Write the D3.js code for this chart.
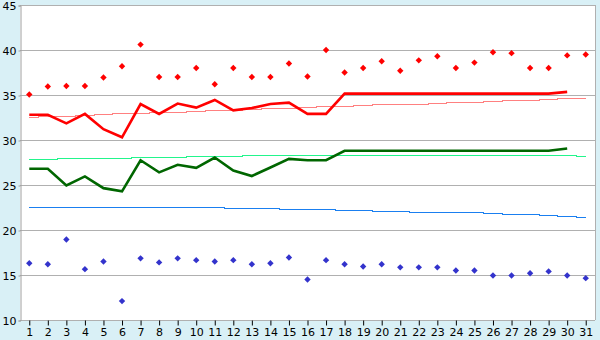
<!DOCTYPE html>
<html>
<head>
<meta charset="utf-8">
<script src="https://cdn.jsdelivr.net/npm/d3@7/dist/d3.min.js"></script>
<style>
  body { margin: 0; background: #d9f0f6; }
  svg { display: block; }
  text { font-family: "DejaVu Sans", Verdana, sans-serif; font-size: 11px; fill: #000; }
</style>
</head>
<body>
<svg id="chart" width="600" height="340"></svg>
<script>
// days of the month
const days = d3.range(1, 32);
const yTicks = [10, 15, 20, 25, 30, 35, 40, 45];

// daily highs (red diamonds) and lows (blue diamonds)
const highs = [35.05, 35.95, 36, 36, 36.95, 38.2, 40.6, 37, 37, 38, 36.2, 38, 37, 37, 38.5, 37.05,
  40, 37.5, 38, 38.75, 37.7, 38.85, 39.3, 38, 38.6, 39.75, 39.65, 38, 38, 39.4, 39.5];
const lows = [16.3, 16.2, 18.95, 15.65, 16.5, 12.1, 16.85, 16.4, 16.85, 16.65, 16.5, 16.65, 16.2,
  16.3, 16.95, 14.5, 16.65, 16.2, 15.95, 16.2, 15.85, 15.85, 15.85, 15.5, 15.5, 14.95, 14.95,
  15.2, 15.4, 14.95, 14.65];

// thick lines (days 1..30)
const redLine = [32.8, 32.8, 31.85, 32.9, 31.2, 30.3, 34.0, 32.9, 34.05, 33.6, 34.45, 33.3, 33.55,
  34.0, 34.15, 32.9, 32.9, 35.15, 35.15, 35.15, 35.15, 35.15, 35.15, 35.15, 35.15, 35.15, 35.15,
  35.15, 35.15, 35.35];
const greenLine = [26.8, 26.8, 24.95, 25.95, 24.65, 24.3, 27.75, 26.4, 27.25, 26.9, 28.05, 26.6,
  26.0, 26.95, 27.9, 27.75, 27.75, 28.8, 28.8, 28.8, 28.8, 28.8, 28.8, 28.8, 28.8, 28.8, 28.8,
  28.8, 28.8, 29.05];

// thin lines (days 1..31)
const salmonLine = [32.52, 32.56, 32.63, 32.74, 32.86, 32.97, 33.0, 33.05, 33.1, 33.2, 33.25, 33.3,
  33.38, 33.45, 33.55, 33.62, 33.7, 33.75, 33.8, 33.9, 33.95, 34.0, 34.07, 34.15, 34.22, 34.3,
  34.35, 34.42, 34.5, 34.57, 34.63];
const mintLine = [27.86, 27.86, 27.97, 27.97, 27.97, 27.97, 28.08, 28.08, 28.08, 28.19, 28.19,
  28.19, 28.3, 28.3, 28.3, 28.3, 28.3, 28.3, 28.3, 28.3, 28.3, 28.3, 28.3, 28.3, 28.3, 28.3, 28.3,
  28.3, 28.3, 28.3, 28.19];
const blueLine = [22.52, 22.52, 22.52, 22.52, 22.52, 22.52, 22.52, 22.52, 22.52, 22.52, 22.52,
  22.41, 22.41, 22.41, 22.3, 22.3, 22.3, 22.19, 22.19, 22.08, 22.08, 21.97, 21.97, 21.97, 21.97,
  21.86, 21.74, 21.74, 21.63, 21.52, 21.41];

const plotLeft = 20, plotRight = 595, plotTop = 5, plotBottom = 320;

const svg = d3.select('#chart');

const x = d3.scaleBand().domain(days).range([plotLeft, plotRight]);
const cx = d => x(d) + x.bandwidth() / 2;
const y = d3.scaleLinear().domain([10, 45]).range([plotBottom, plotTop]);

// plot background
svg.append('rect')
  .attr('x', plotLeft).attr('y', plotTop)
  .attr('width', plotRight - plotLeft).attr('height', plotBottom - plotTop)
  .attr('fill', '#fff');

// grid
svg.append('g')
  .selectAll('line')
  .data(yTicks)
  .join('line')
  .attr('x1', plotLeft).attr('x2', plotRight)
  .attr('y1', d => Math.round(y(d)) + 0.5).attr('y2', d => Math.round(y(d)) + 0.5)
  .attr('stroke', '#b0b0b0');

svg.append('line')
  .attr('x1', plotRight + 0.5).attr('x2', plotRight + 0.5)
  .attr('y1', plotTop).attr('y2', plotBottom)
  .attr('stroke', '#b0b0b0');

// y axis
const yAxis = svg.append('g')
  .attr('transform', `translate(${plotLeft + 0.5},0.5)`)
  .call(d3.axisLeft(y).tickValues(yTicks).tickSize(2).tickPadding(2));
yAxis.select('.domain').attr('stroke', '#a0a0a0');
yAxis.selectAll('.tick line').attr('stroke', '#a0a0a0');
yAxis.selectAll('text').attr('font-size', 11).attr('font-family', null);

// x axis
const xAxis = svg.append('g')
  .attr('transform', `translate(0.5,${plotBottom + 0.5})`)
  .call(d3.axisBottom(x).tickSize(5).tickPadding(3));
xAxis.select('.domain').remove();
xAxis.selectAll('.tick line').attr('stroke', '#000');
xAxis.selectAll('text').attr('font-size', 11).attr('font-family', null);

const pts = arr => arr.map((v, i) => [cx(days[i]), y(v)]);

const stepLine = d3.line().curve(d3.curveStep);
const plainLine = d3.line();

// thin trend lines
[[salmonLine, '#ff8080'], [mintLine, '#22f58c'], [blueLine, '#1a7ff0']].forEach(([arr, col]) => {
  svg.append('path')
    .attr('d', stepLine(pts(arr)))
    .attr('fill', 'none')
    .attr('stroke', col)
    .attr('stroke-width', 1)
    .attr('shape-rendering', 'crispEdges');
});

// thick lines
[[redLine, '#ff0000'], [greenLine, '#006600']].forEach(([arr, col]) => {
  svg.append('path')
    .attr('d', plainLine(pts(arr)))
    .attr('fill', 'none')
    .attr('stroke', col)
    .attr('stroke-width', 2.6);
});

// markers
const marker = d3.symbol().type(d3.symbolDiamond2).size(26);
[[highs, '#ff0000'], [lows, '#3333cc']].forEach(([arr, col]) => {
  svg.append('g')
    .selectAll('path')
    .data(arr)
    .join('path')
    .attr('transform', (d, i) => `translate(${cx(days[i])},${y(d)})`)
    .attr('d', marker)
    .attr('fill', col);
});
</script>
</body>
</html>
